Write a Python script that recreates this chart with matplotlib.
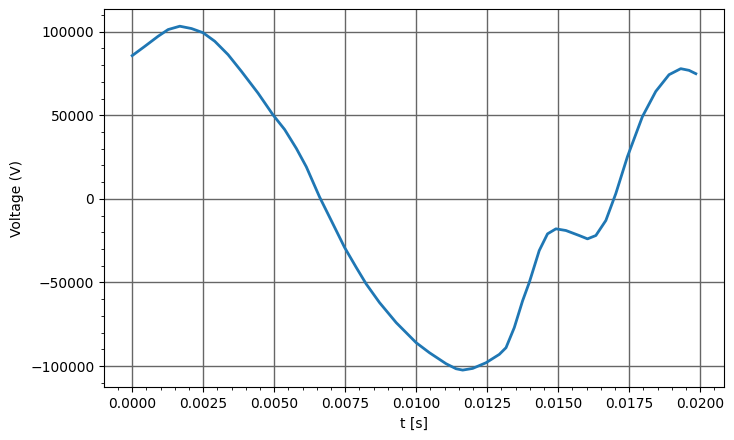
import numpy as np
import matplotlib
matplotlib.use('Agg')
import matplotlib.pyplot as plt

# voltage trace
t = [0.0, 0.000447, 0.000914, 0.001266, 0.001677, 0.002089, 0.002496,
     0.002908, 0.003376, 0.003847, 0.004431, 0.004958, 0.005369, 0.005781,
     0.006132, 0.006600, 0.007068, 0.007479, 0.007890, 0.008242, 0.008709,
     0.009297, 0.010000, 0.010468, 0.011055, 0.011406, 0.011639, 0.011990,
     0.012461, 0.012929, 0.013165, 0.013456, 0.013748, 0.013984, 0.014335,
     0.014627, 0.014923, 0.015274, 0.015742, 0.016034, 0.016329, 0.016681,
     0.017032, 0.017440, 0.017968, 0.018439, 0.018906, 0.019318, 0.019610,
     0.019850]
v = [85700, 91300, 97300, 101300, 103300, 101900, 99400,
     94300, 86300, 76300, 63300, 50300, 41500, 30200,
     19200, 1100, -14900, -29000, -41000, -50900, -62000,
     -74000, -86000, -92000, -98600, -101600, -102400, -101400,
     -98000, -93000, -89000, -77000, -61000, -50000, -30900,
     -20900, -17900, -18900, -21900, -23900, -21900, -12900,
     3200, 25200, 49200, 64300, 74300, 77900, 76900,
     74900]

fig = plt.figure(figsize=(7.34, 4.4), dpi=100)
ax = fig.add_axes([0.1417, 0.1198, 0.8447, 0.8597])
ax.plot(t, v, color='#1f77b4', linewidth=2)
ax.minorticks_on()
ax.grid(True, which='major', color='#666666', linewidth=1)
ax.set_xlabel('t [s]')
ax.set_ylabel('Voltage (V)')
fig.savefig('out.png', dpi=100)
plt.close(fig)
